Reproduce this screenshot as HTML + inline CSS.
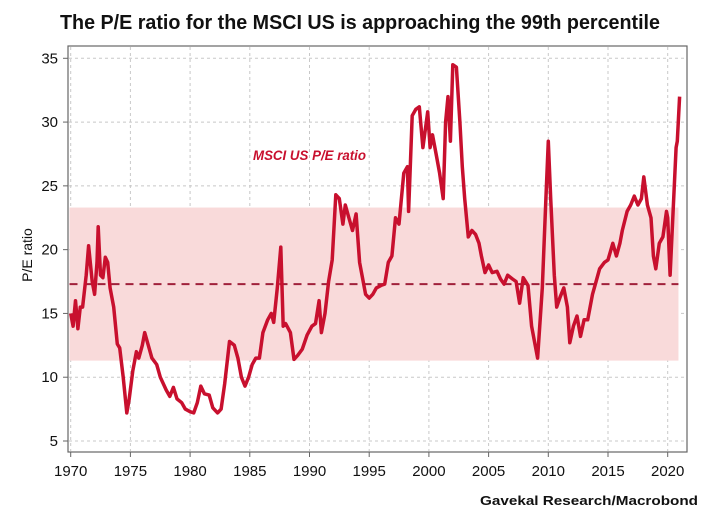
<!DOCTYPE html>
<html><head><meta charset="utf-8"><style>
body{margin:0;background:#fff;}
svg{display:block;font-family:"Liberation Sans",sans-serif;}
</style></head><body>
<svg id="chart" width="715" height="526" viewBox="0 0 715 526">
<text x="60" y="29" font-size="20" font-weight="bold" textLength="600" lengthAdjust="spacingAndGlyphs" fill="#111">The P/E ratio for the MSCI US is approaching the 99th percentile</text>
<g id="grid"></g>
<rect id="band" fill="#f9dada"/>
<g id="grid2"></g>
<line id="avg" stroke="#a0203a" stroke-width="2" stroke-dasharray="8,6"/>
<path id="line" fill="none" stroke="#c8102e" stroke-width="3.5" stroke-linejoin="round"/>
<rect x="68" y="46" width="619" height="406" fill="none" stroke="#666" stroke-width="1.2"/>
<g id="axes"></g>
<text transform="translate(32,255) rotate(-90)" text-anchor="middle" font-size="14" fill="#111">P/E ratio</text>
<text x="253" y="160" font-size="14" font-style="italic" font-weight="bold" fill="#c8102e" textLength="113" lengthAdjust="spacingAndGlyphs">MSCI US P/E ratio</text>
<text x="698" y="505" text-anchor="end" font-size="13" font-weight="bold" fill="#111" textLength="218" lengthAdjust="spacingAndGlyphs">Gavekal Research/Macrobond</text>
</svg>
<script>
const years=[1970.0,1970.2,1970.4,1970.6,1970.8,1971.0,1971.3,1971.5,1971.8,1972.0,1972.2,1972.3,1972.5,1972.7,1972.9,1973.1,1973.3,1973.6,1973.9,1974.1,1974.4,1974.7,1974.9,1975.2,1975.5,1975.7,1976.0,1976.2,1976.5,1976.8,1977.2,1977.5,1978.0,1978.3,1978.6,1978.9,1979.3,1979.6,1980.0,1980.3,1980.6,1980.9,1981.2,1981.6,1981.9,1982.3,1982.6,1982.9,1983.3,1983.7,1984.0,1984.3,1984.6,1984.9,1985.2,1985.5,1985.8,1986.1,1986.5,1986.8,1987.0,1987.3,1987.6,1987.8,1988.0,1988.4,1988.7,1989.0,1989.4,1989.8,1990.2,1990.5,1990.8,1991.0,1991.3,1991.6,1991.9,1992.2,1992.5,1992.8,1993.0,1993.3,1993.6,1993.9,1994.2,1994.4,1994.7,1995.0,1995.3,1995.6,1996.0,1996.3,1996.6,1996.9,1997.2,1997.5,1997.9,1998.2,1998.3,1998.6,1998.9,1999.2,1999.5,1999.9,2000.1,2000.3,2000.6,2000.9,2001.2,2001.4,2001.6,2001.8,2002.0,2002.3,2002.6,2002.8,2003.0,2003.3,2003.6,2003.9,2004.2,2004.4,2004.7,2005.0,2005.3,2005.7,2006.0,2006.3,2006.6,2007.0,2007.3,2007.6,2007.9,2008.3,2008.6,2008.9,2009.1,2009.5,2009.8,2010.0,2010.2,2010.5,2010.7,2011.0,2011.3,2011.6,2011.8,2012.1,2012.4,2012.7,2013.0,2013.3,2013.7,2014.0,2014.3,2014.7,2015.0,2015.4,2015.7,2016.0,2016.2,2016.6,2016.9,2017.2,2017.5,2017.8,2018.0,2018.3,2018.6,2018.8,2019.0,2019.3,2019.6,2019.9,2020.0,2020.2,2020.4,2020.7,2020.8,2021.0];
const peValues=[15,14,16,13.8,15.5,15.5,18,20.3,17.5,16.5,19,21.8,18,17.8,19.4,19,17,15.5,12.6,12.3,10,7.2,8.3,10.5,12,11.5,12.5,13.5,12.5,11.5,11,10,9,8.5,9.2,8.3,8,7.5,7.3,7.2,8,9.3,8.7,8.6,7.6,7.2,7.5,9.5,12.8,12.5,11.5,10,9.3,10,11,11.5,11.5,13.5,14.5,15,14.3,17,20.2,14,14.2,13.5,11.4,11.7,12.2,13.3,14,14.2,16,13.5,15,17.5,19.2,24.3,24,22,23.5,22.5,21.5,22.8,19,18,16.5,16.2,16.5,17,17.2,17.3,19,19.5,22.5,22,26,26.5,23,30.5,31,31.2,28,30.8,28,29,27.5,26,24,30,32,28.5,34.5,34.3,30,26.5,24,21,21.5,21.2,20.5,19.5,18.2,18.8,18.2,18.3,17.7,17.3,18,17.7,17.5,15.8,17.8,17.2,14,12.5,11.5,17,24,28.5,24,18,15.5,16.3,17,15.5,12.7,14,14.8,13.2,14.5,14.5,16.5,17.5,18.5,19,19.2,20.5,19.5,20.5,21.5,23,23.5,24.2,23.5,24,25.7,23.5,22.5,19.5,18.5,20.5,21,23,22.5,18,22,28,28.5,32];
const yTicks=[5,10,15,20,25,30,35];
const xTicks=[1970,1975,1980,1985,1990,1995,2000,2005,2010,2015,2020];
const bandRange=[11.3,23.3];
const averagePE=[17.3];
const bandYears=[1969.9,2020.9];

const NS="http://www.w3.org/2000/svg";
const X=y=>70.7+(y-1970)*11.94;
const Y=v=>441-(v-5)*12.757;
function mk(t,a,p){const e=document.createElementNS(NS,t);for(const k in a)e.setAttribute(k,a[k]);p.appendChild(e);return e;}
const grid=document.getElementById('grid'),axes=document.getElementById('axes');
yTicks.forEach(v=>{
 const g=mk('line',{x1:69,x2:686,y1:Y(v),y2:Y(v),stroke:'#c8c8c8','stroke-dasharray':'3,3'},grid);
 
 
 const tk=mk('line',{x1:63,x2:68,y1:Y(v),y2:Y(v),stroke:'#666'},axes);
 
 
 const t=mk('text',{x:58,y:Y(v)+5,'text-anchor':'end','font-size':'15',fill:'#111'},axes);
 t.textContent=v;
 
 
});
xTicks.forEach(v=>{
 const g=mk('line',{x1:X(v),x2:X(v),y1:47,y2:451,stroke:'#c8c8c8','stroke-dasharray':'3,3'},grid);
 
 
 const tk=mk('line',{x1:X(v),x2:X(v),y1:452,y2:457,stroke:'#666'},axes);
 
 
 const t=mk('text',{x:X(v),y:476,'text-anchor':'middle','font-size':'15',fill:'#111'},axes);
 t.textContent=v;
 
 
});
const band=document.getElementById('band');
band.setAttribute('x',X(bandYears[0]));band.setAttribute('width',X(bandYears[1])-X(bandYears[0]));
band.setAttribute('y',Y(bandRange[1]));band.setAttribute('height',Y(bandRange[0])-Y(bandRange[1]));
const avg=document.getElementById('avg');
avg.setAttribute('x1',X(bandYears[0]));avg.setAttribute('x2',X(bandYears[1]));
avg.setAttribute('y1',Y(averagePE[0]));avg.setAttribute('y2',Y(averagePE[0]));
document.getElementById('line').setAttribute('d',years.map((yr,i)=>(i?'L':'M')+X(yr).toFixed(1)+' '+Y(peValues[i]).toFixed(1)).join(' '));
</script>
</body></html>
